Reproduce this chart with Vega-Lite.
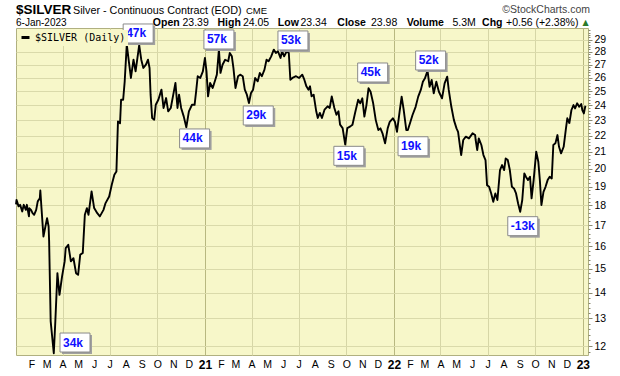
{
  "$schema": "https://vega.github.io/schema/vega-lite/v6.json",
  "width": 572,
  "height": 327,
  "autosize": {"type": "none"},
  "padding": {"left": 16, "top": 28, "right": 32, "bottom": 21},
  "background": "#ffffff",
  "config": {"view": {"fill": "#f7f7c9", "stroke": "#b0b080", "strokeWidth": 1}, "font": "Liberation Sans"},
  "datasets": {
    "quote": [{"symbol": "$SILVER", "name": "Silver - Continuous Contract (EOD)", "exchange": "CME", "date": "6-Jan-2023", "open": "23.39", "high": "24.05", "low": "23.34", "close": "23.98", "volume": "5.3M", "chg": "+0.56 (+2.38%)"}],
    "labels": [
      {"date": "2020-04-25", "price": 11.75, "label": "34k", "side": "above"},
      {"date": "2020-08-25", "price": 28.61, "label": "47k", "side": "above"},
      {"date": "2020-12-12", "price": 22.53, "label": "44k", "side": "below"},
      {"date": "2021-01-28", "price": 28.12, "label": "57k", "side": "above"},
      {"date": "2021-04-14", "price": 24.07, "label": "29k", "side": "below"},
      {"date": "2021-06-20", "price": 28.04, "label": "53k", "side": "above"},
      {"date": "2021-10-06", "price": 21.43, "label": "15k", "side": "below"},
      {"date": "2021-11-21", "price": 25.57, "label": "45k", "side": "above"},
      {"date": "2022-02-07", "price": 22.03, "label": "19k", "side": "below"},
      {"date": "2022-03-13", "price": 26.47, "label": "52k", "side": "above"},
      {"date": "2022-09-07", "price": 17.5, "label": "-13k", "side": "below"}
    ],
    "silver": [
      {"date": "2020-01-02", "close": 18.05}, {"date": "2020-01-03", "close": 18.29}, {"date": "2020-01-07", "close": 17.95}, {"date": "2020-01-10", "close": 18.03},
      {"date": "2020-01-14", "close": 17.69}, {"date": "2020-01-17", "close": 18.03}, {"date": "2020-01-21", "close": 17.77}, {"date": "2020-01-23", "close": 18.03},
      {"date": "2020-01-27", "close": 17.44}, {"date": "2020-01-28", "close": 17.85}, {"date": "2020-01-31", "close": 17.77}, {"date": "2020-02-03", "close": 17.6},
      {"date": "2020-02-06", "close": 17.52}, {"date": "2020-02-10", "close": 17.77}, {"date": "2020-02-13", "close": 18.21}, {"date": "2020-02-17", "close": 18.38},
      {"date": "2020-02-18", "close": 18.79}, {"date": "2020-02-20", "close": 17.95}, {"date": "2020-02-24", "close": 16.46}, {"date": "2020-03-02", "close": 17.35},
      {"date": "2020-03-05", "close": 16.94}, {"date": "2020-03-06", "close": 16.23}, {"date": "2020-03-09", "close": 12.89}, {"date": "2020-03-15", "close": 11.76},
      {"date": "2020-03-18", "close": 12.9}, {"date": "2020-03-22", "close": 14.81}, {"date": "2020-03-26", "close": 13.91}, {"date": "2020-03-31", "close": 14.67},
      {"date": "2020-04-05", "close": 15.32}, {"date": "2020-04-07", "close": 15.92}, {"date": "2020-04-12", "close": 16.07}, {"date": "2020-04-17", "close": 15.32},
      {"date": "2020-04-22", "close": 15.46}, {"date": "2020-04-27", "close": 14.81}, {"date": "2020-05-01", "close": 14.74}, {"date": "2020-05-05", "close": 15.61},
      {"date": "2020-05-10", "close": 15.7}, {"date": "2020-05-14", "close": 17.52}, {"date": "2020-05-18", "close": 17.86}, {"date": "2020-05-21", "close": 17.52},
      {"date": "2020-05-27", "close": 18.74}, {"date": "2020-06-01", "close": 17.86}, {"date": "2020-06-07", "close": 17.6}, {"date": "2020-06-12", "close": 17.44},
      {"date": "2020-06-19", "close": 17.77}, {"date": "2020-06-23", "close": 18.12}, {"date": "2020-06-30", "close": 18.47}, {"date": "2020-07-05", "close": 19.1},
      {"date": "2020-07-10", "close": 19.66}, {"date": "2020-07-14", "close": 19.85}, {"date": "2020-07-17", "close": 22.93}, {"date": "2020-07-21", "close": 22.8},
      {"date": "2020-07-23", "close": 24.4}, {"date": "2020-07-27", "close": 24.4}, {"date": "2020-07-30", "close": 25.73}, {"date": "2020-08-03", "close": 28.6},
      {"date": "2020-08-07", "close": 27.26}, {"date": "2020-08-11", "close": 25.98}, {"date": "2020-08-16", "close": 27.38}, {"date": "2020-08-20", "close": 26.48},
      {"date": "2020-08-27", "close": 28.55}, {"date": "2020-08-31", "close": 27.38}, {"date": "2020-09-04", "close": 26.74}, {"date": "2020-09-09", "close": 26.99},
      {"date": "2020-09-13", "close": 27.38}, {"date": "2020-09-16", "close": 26.74}, {"date": "2020-09-18", "close": 24.76}, {"date": "2020-09-21", "close": 23.15},
      {"date": "2020-09-25", "close": 23.04}, {"date": "2020-09-28", "close": 24.05}, {"date": "2020-10-03", "close": 24.4}, {"date": "2020-10-09", "close": 25.12},
      {"date": "2020-10-13", "close": 23.83}, {"date": "2020-10-18", "close": 24.52}, {"date": "2020-10-22", "close": 23.6}, {"date": "2020-10-27", "close": 23.83},
      {"date": "2020-11-02", "close": 25.0}, {"date": "2020-11-05", "close": 25.61}, {"date": "2020-11-09", "close": 23.83}, {"date": "2020-11-12", "close": 24.76},
      {"date": "2020-11-16", "close": 23.83}, {"date": "2020-11-21", "close": 23.26}, {"date": "2020-11-26", "close": 22.54}, {"date": "2020-12-01", "close": 23.6},
      {"date": "2020-12-07", "close": 24.05}, {"date": "2020-12-12", "close": 24.05}, {"date": "2020-12-15", "close": 25.0}, {"date": "2020-12-18", "close": 26.11},
      {"date": "2020-12-23", "close": 25.98}, {"date": "2020-12-28", "close": 26.48}, {"date": "2021-01-01", "close": 27.52}, {"date": "2021-01-04", "close": 26.48},
      {"date": "2021-01-07", "close": 24.64}, {"date": "2021-01-11", "close": 25.61}, {"date": "2021-01-16", "close": 25.24}, {"date": "2021-01-21", "close": 25.85},
      {"date": "2021-01-24", "close": 26.23}, {"date": "2021-01-28", "close": 28.19}, {"date": "2021-01-31", "close": 26.36}, {"date": "2021-02-04", "close": 26.99},
      {"date": "2021-02-09", "close": 27.38}, {"date": "2021-02-15", "close": 27.26}, {"date": "2021-02-18", "close": 27.92}, {"date": "2021-02-22", "close": 27.65},
      {"date": "2021-02-25", "close": 26.74}, {"date": "2021-03-01", "close": 25.24}, {"date": "2021-03-06", "close": 26.11}, {"date": "2021-03-10", "close": 26.23},
      {"date": "2021-03-15", "close": 26.11}, {"date": "2021-03-19", "close": 25.12}, {"date": "2021-03-23", "close": 24.76}, {"date": "2021-03-27", "close": 24.17},
      {"date": "2021-03-31", "close": 24.88}, {"date": "2021-04-04", "close": 25.12}, {"date": "2021-04-08", "close": 25.98}, {"date": "2021-04-13", "close": 25.73},
      {"date": "2021-04-17", "close": 26.36}, {"date": "2021-04-21", "close": 26.11}, {"date": "2021-04-26", "close": 26.61}, {"date": "2021-04-30", "close": 27.38},
      {"date": "2021-05-04", "close": 27.26}, {"date": "2021-05-09", "close": 27.65}, {"date": "2021-05-14", "close": 28.19}, {"date": "2021-05-18", "close": 27.92},
      {"date": "2021-05-22", "close": 28.06}, {"date": "2021-05-27", "close": 27.52}, {"date": "2021-05-30", "close": 28.06}, {"date": "2021-06-03", "close": 27.65},
      {"date": "2021-06-08", "close": 28.06}, {"date": "2021-06-12", "close": 27.92}, {"date": "2021-06-15", "close": 25.85}, {"date": "2021-06-19", "close": 25.98},
      {"date": "2021-06-26", "close": 26.11}, {"date": "2021-07-02", "close": 25.98}, {"date": "2021-07-08", "close": 26.23}, {"date": "2021-07-12", "close": 25.85},
      {"date": "2021-07-16", "close": 25.36}, {"date": "2021-07-20", "close": 25.12}, {"date": "2021-07-23", "close": 25.36}, {"date": "2021-07-26", "close": 24.64},
      {"date": "2021-07-30", "close": 24.76}, {"date": "2021-08-04", "close": 23.6}, {"date": "2021-08-07", "close": 23.15}, {"date": "2021-08-11", "close": 23.49},
      {"date": "2021-08-15", "close": 23.15}, {"date": "2021-08-20", "close": 23.71}, {"date": "2021-08-26", "close": 23.94}, {"date": "2021-08-30", "close": 23.83},
      {"date": "2021-09-03", "close": 24.64}, {"date": "2021-09-08", "close": 23.83}, {"date": "2021-09-12", "close": 23.37}, {"date": "2021-09-16", "close": 23.6},
      {"date": "2021-09-19", "close": 22.71}, {"date": "2021-09-24", "close": 22.49}, {"date": "2021-09-29", "close": 21.44}, {"date": "2021-10-03", "close": 22.49},
      {"date": "2021-10-09", "close": 22.6}, {"date": "2021-10-13", "close": 22.71}, {"date": "2021-10-18", "close": 23.49}, {"date": "2021-10-24", "close": 24.4},
      {"date": "2021-10-28", "close": 24.15}, {"date": "2021-11-01", "close": 24.5}, {"date": "2021-11-05", "close": 23.24}, {"date": "2021-11-09", "close": 24.03},
      {"date": "2021-11-13", "close": 25.22}, {"date": "2021-11-17", "close": 24.97}, {"date": "2021-11-22", "close": 24.15}, {"date": "2021-11-27", "close": 23.01},
      {"date": "2021-12-02", "close": 22.36}, {"date": "2021-12-06", "close": 22.47}, {"date": "2021-12-10", "close": 22.15}, {"date": "2021-12-15", "close": 21.52},
      {"date": "2021-12-20", "close": 22.47}, {"date": "2021-12-24", "close": 22.9}, {"date": "2021-12-30", "close": 23.13}, {"date": "2022-01-03", "close": 22.9},
      {"date": "2022-01-07", "close": 22.25}, {"date": "2022-01-12", "close": 23.57}, {"date": "2022-01-16", "close": 24.62}, {"date": "2022-01-20", "close": 23.69},
      {"date": "2022-01-25", "close": 22.36}, {"date": "2022-01-28", "close": 22.36}, {"date": "2022-02-02", "close": 22.9}, {"date": "2022-02-06", "close": 23.35},
      {"date": "2022-02-12", "close": 23.91}, {"date": "2022-02-17", "close": 24.62}, {"date": "2022-02-22", "close": 25.1}, {"date": "2022-02-26", "close": 25.7},
      {"date": "2022-03-02", "close": 25.95}, {"date": "2022-03-07", "close": 26.53}, {"date": "2022-03-11", "close": 25.33}, {"date": "2022-03-15", "close": 25.83},
      {"date": "2022-03-19", "close": 24.86}, {"date": "2022-03-24", "close": 25.7}, {"date": "2022-03-29", "close": 24.97}, {"date": "2022-04-04", "close": 24.5},
      {"date": "2022-04-09", "close": 25.58}, {"date": "2022-04-14", "close": 26.08}, {"date": "2022-04-17", "close": 25.1}, {"date": "2022-04-22", "close": 23.91},
      {"date": "2022-04-27", "close": 23.01}, {"date": "2022-05-02", "close": 22.47}, {"date": "2022-05-05", "close": 22.25}, {"date": "2022-05-11", "close": 20.81},
      {"date": "2022-05-15", "close": 21.73}, {"date": "2022-05-20", "close": 21.94}, {"date": "2022-05-26", "close": 21.83}, {"date": "2022-06-02", "close": 22.15},
      {"date": "2022-06-07", "close": 22.04}, {"date": "2022-06-08", "close": 21.73}, {"date": "2022-06-11", "close": 21.11}, {"date": "2022-06-14", "close": 21.83},
      {"date": "2022-06-19", "close": 21.42}, {"date": "2022-06-23", "close": 20.81}, {"date": "2022-06-27", "close": 20.51}, {"date": "2022-06-30", "close": 19.08},
      {"date": "2022-07-04", "close": 18.99}, {"date": "2022-07-08", "close": 18.63}, {"date": "2022-07-12", "close": 18.19}, {"date": "2022-07-16", "close": 18.63},
      {"date": "2022-07-20", "close": 18.28}, {"date": "2022-07-25", "close": 19.93}, {"date": "2022-07-29", "close": 20.22}, {"date": "2022-08-02", "close": 19.93},
      {"date": "2022-08-05", "close": 20.61}, {"date": "2022-08-09", "close": 20.51}, {"date": "2022-08-13", "close": 19.93}, {"date": "2022-08-17", "close": 18.99},
      {"date": "2022-08-21", "close": 18.9}, {"date": "2022-08-25", "close": 18.63}, {"date": "2022-08-29", "close": 18.1}, {"date": "2022-09-02", "close": 17.67},
      {"date": "2022-09-06", "close": 18.28}, {"date": "2022-09-10", "close": 19.74}, {"date": "2022-09-13", "close": 19.55}, {"date": "2022-09-17", "close": 19.36},
      {"date": "2022-09-21", "close": 19.55}, {"date": "2022-09-24", "close": 18.37}, {"date": "2022-09-28", "close": 19.36}, {"date": "2022-10-03", "close": 21.01},
      {"date": "2022-10-07", "close": 20.41}, {"date": "2022-10-10", "close": 19.36}, {"date": "2022-10-13", "close": 18.02}, {"date": "2022-10-17", "close": 18.72},
      {"date": "2022-10-21", "close": 18.99}, {"date": "2022-10-25", "close": 19.36}, {"date": "2022-10-29", "close": 19.55}, {"date": "2022-11-02", "close": 19.45},
      {"date": "2022-11-05", "close": 21.42}, {"date": "2022-11-09", "close": 21.52}, {"date": "2022-11-13", "close": 22.04}, {"date": "2022-11-16", "close": 21.31},
      {"date": "2022-11-20", "close": 20.91}, {"date": "2022-11-25", "close": 21.31}, {"date": "2022-11-29", "close": 22.36}, {"date": "2022-12-02", "close": 23.13},
      {"date": "2022-12-06", "close": 22.82}, {"date": "2022-12-10", "close": 23.69}, {"date": "2022-12-14", "close": 24.03}, {"date": "2022-12-17", "close": 23.8},
      {"date": "2022-12-21", "close": 24.15}, {"date": "2022-12-25", "close": 23.91}, {"date": "2022-12-29", "close": 24.1}, {"date": "2022-12-31", "close": 23.69},
      {"date": "2023-01-03", "close": 23.46}, {"date": "2023-01-06", "close": 23.98}
    ]
  },
  "layer": [
    {
      "data": {"name": "silver"},
      "mark": {"type": "line", "strokeWidth": 1.9, "strokeJoin": "round"},
      "encoding": {
        "x": {
          "field": "date", "type": "temporal",
          "scale": {"type": "utc", "nice": false, "domain": [{"year": 2020, "month": 1, "date": 2, "utc": true}, {"year": 2023, "month": 1, "date": 11, "utc": true}]},
          "axis": {
            "title": null, "orient": "bottom",
            "tickCount": {"interval": "month", "step": 1},
            "labelExpr": "utcmonth(datum.value) == 0 ? utcFormat(datum.value, '%y') : substring(utcFormat(datum.value, '%b'), 0, 1)",
            "labelFont": "Liberation Sans",
            "labelFontSize": {"condition": {"test": "utcmonth(datum.value) == 0", "value": 12}, "value": 10.5},
            "labelFontWeight": {"condition": {"test": "utcmonth(datum.value) == 0", "value": "bold"}, "value": "normal"},
            "labelColor": "#000000", "labelPadding": 4, "labelBaseline": "top",
            "ticks": false, "domain": false,
            "grid": true,
            "gridColor": {"condition": {"test": "utcmonth(datum.value) == 0", "value": "#b8b880"}, "value": "#d6d6a6"},
            "gridOpacity": {"condition": {"test": "utcmonth(datum.value) % 3 == 0", "value": 1}, "value": 0},
            "labelOverlap": false, "labelBound": false, "labelFlush": false
          }
        },
        "y": {
          "field": "close", "type": "quantitative",
          "scale": {"type": "log", "domain": [11.7, 30], "nice": false, "zero": false},
          "axis": {
            "title": null, "orient": "right",
            "values": [11.8, 12, 12.2, 12.4, 12.6, 12.8, 13, 13.2, 13.4, 13.6, 13.8, 14, 14.2, 14.4, 14.6, 14.8, 15, 15.2, 15.4, 15.6, 15.8, 16, 16.2, 16.4, 16.6, 16.8, 17, 17.2, 17.4, 17.6, 17.8, 18, 18.2, 18.4, 18.6, 18.8, 19, 19.2, 19.4, 19.6, 19.8, 20, 20.2, 20.4, 20.6, 20.8, 21, 21.2, 21.4, 21.6, 21.8, 22, 22.2, 22.4, 22.6, 22.8, 23, 23.2, 23.4, 23.6, 23.8, 24, 24.2, 24.4, 24.6, 24.8, 25, 25.2, 25.4, 25.6, 25.8, 26, 26.2, 26.4, 26.6, 26.8, 27, 27.2, 27.4, 27.6, 27.8, 28, 28.2, 28.4, 28.6, 28.8, 29, 29.2, 29.4, 29.6, 29.8],
            "labelExpr": "datum.value % 1 == 0 ? format(datum.value, 'd') : ''",
            "labelFont": "Liberation Sans", "labelFontSize": 10.5, "labelColor": "#000000",
            "labelPadding": 2, "labelBaseline": "middle",
            "tickSize": {"condition": {"test": "datum.value % 1 == 0", "value": 4}, "value": 2},
            "tickColor": "#8a8a70",
            "domain": false, "grid": true, "gridColor": "#dadaaa",
            "gridOpacity": {"condition": {"test": "datum.value % 1 == 0", "value": 1}, "value": 0},
            "labelOverlap": false, "labelBound": false
          }
        },
        "color": {
          "datum": "$SILVER (Daily)", "type": "nominal",
          "scale": {"range": ["#000000"]},
          "legend": {"title": null, "orient": "top-left", "offset": 2, "padding": 2, "symbolType": "stroke", "symbolStrokeWidth": 3, "symbolSize": 64, "labelFont": "DejaVu Sans Mono", "labelFontSize": 10, "labelColor": "#000000", "labelOffset": 4, "fillColor": "#f7f7c9"}
        }
      }
    },
    {
      "data": {"name": "labels"},
      "encoding": {
        "x": {"field": "date", "type": "temporal"},
        "y": {"field": "price", "type": "quantitative"}
      },
      "layer": [
        {
          "mark": {"type": "point", "filled": true, "fill": "#a0a0a0", "strokeWidth": 0, "opacity": 1, "size": 900},
          "encoding": {"shape": {"field": "side", "type": "nominal", "legend": null, "scale": {"domain": ["above", "below"], "range": ["M-0.8667,-1.2333H1.1333V0.0333H-0.8667Z", "M-0.8667,0.2333H1.1333V1.5H-0.8667Z"]}}}
        },
        {
          "mark": {"type": "point", "filled": true, "fill": "#ffffff", "stroke": "#8a8a8a", "strokeWidth": 1, "opacity": 1, "size": 900},
          "encoding": {"shape": {"field": "side", "type": "nominal", "legend": null, "scale": {"domain": ["above", "below"], "range": ["M-1,-1.3667H1V-0.1H-1Z", "M-1,0.1H1V1.3667H-1Z"]}}}
        },
        {
          "transform": [{"filter": "datum.side == 'above'"}],
          "mark": {"type": "text", "align": "left", "baseline": "middle", "dx": -12, "dy": -11, "font": "Liberation Sans", "fontSize": 12, "fontWeight": "bold", "color": "#1010ff"},
          "encoding": {"text": {"field": "label"}}
        },
        {
          "transform": [{"filter": "datum.side == 'below'"}],
          "mark": {"type": "text", "align": "left", "baseline": "middle", "dx": -12, "dy": 11, "font": "Liberation Sans", "fontSize": 12, "fontWeight": "bold", "color": "#1010ff"},
          "encoding": {"text": {"field": "label"}}
        }
      ],
      "resolve": {"scale": {"shape": "independent"}}
    },
    {
      "data": {"name": "quote"},
      "encoding": {
        "x": {"datum": {"year": 2020, "month": 1, "date": 2, "utc": true}, "type": "temporal"},
        "y": {"datum": 30, "type": "quantitative"}
      },
      "layer": [
        {"mark": {"type": "text", "align": "left", "baseline": "alphabetic", "dx": 0, "dy": -14, "font": "Liberation Sans", "fontSize": 13.5, "fontWeight": "bold", "color": "#000000"}, "encoding": {"text": {"field": "symbol"}}},
        {"mark": {"type": "text", "align": "left", "baseline": "alphabetic", "dx": 57, "dy": -14.5, "font": "Liberation Sans", "fontSize": 10.8, "color": "#000000"}, "encoding": {"text": {"field": "name"}}},
        {"mark": {"type": "text", "align": "left", "baseline": "alphabetic", "dx": 230, "dy": -14.5, "font": "Liberation Sans", "fontSize": 9.5, "color": "#000000"}, "encoding": {"text": {"field": "exchange"}}},
        {"mark": {"type": "text", "align": "right", "baseline": "alphabetic", "dx": 574, "dy": -15, "font": "Liberation Sans", "fontSize": 10.5, "color": "#444444"}, "encoding": {"text": {"value": "©StockCharts.com"}}},
        {"mark": {"type": "text", "align": "left", "baseline": "alphabetic", "dx": 0, "dy": -2.5, "font": "Liberation Sans", "fontSize": 10, "color": "#000000"}, "encoding": {"text": {"field": "date"}}},
        {"mark": {"type": "text", "align": "left", "baseline": "alphabetic", "dx": 136.8, "dy": -2.5, "font": "Liberation Sans", "fontSize": 10.5, "fontWeight": "bold", "color": "#000000"}, "encoding": {"text": {"value": "Open"}}},
        {"mark": {"type": "text", "align": "left", "baseline": "alphabetic", "dx": 166.5, "dy": -2.5, "font": "Liberation Sans", "fontSize": 10.5, "color": "#000000"}, "encoding": {"text": {"field": "open"}}},
        {"mark": {"type": "text", "align": "left", "baseline": "alphabetic", "dx": 201.5, "dy": -2.5, "font": "Liberation Sans", "fontSize": 10.5, "fontWeight": "bold", "color": "#000000"}, "encoding": {"text": {"value": "High"}}},
        {"mark": {"type": "text", "align": "left", "baseline": "alphabetic", "dx": 226.9, "dy": -2.5, "font": "Liberation Sans", "fontSize": 10.5, "color": "#000000"}, "encoding": {"text": {"field": "high"}}},
        {"mark": {"type": "text", "align": "left", "baseline": "alphabetic", "dx": 261.8, "dy": -2.5, "font": "Liberation Sans", "fontSize": 10.5, "fontWeight": "bold", "color": "#000000"}, "encoding": {"text": {"value": "Low"}}},
        {"mark": {"type": "text", "align": "left", "baseline": "alphabetic", "dx": 284.5, "dy": -2.5, "font": "Liberation Sans", "fontSize": 10.5, "color": "#000000"}, "encoding": {"text": {"field": "low"}}},
        {"mark": {"type": "text", "align": "left", "baseline": "alphabetic", "dx": 321.3, "dy": -2.5, "font": "Liberation Sans", "fontSize": 10.5, "fontWeight": "bold", "color": "#000000"}, "encoding": {"text": {"value": "Close"}}},
        {"mark": {"type": "text", "align": "left", "baseline": "alphabetic", "dx": 355, "dy": -2.5, "font": "Liberation Sans", "fontSize": 10.5, "color": "#000000"}, "encoding": {"text": {"field": "close"}}},
        {"mark": {"type": "text", "align": "left", "baseline": "alphabetic", "dx": 390.7, "dy": -2.5, "font": "Liberation Sans", "fontSize": 10.5, "fontWeight": "bold", "color": "#000000"}, "encoding": {"text": {"value": "Volume"}}},
        {"mark": {"type": "text", "align": "left", "baseline": "alphabetic", "dx": 436.4, "dy": -2.5, "font": "Liberation Sans", "fontSize": 10.5, "color": "#000000"}, "encoding": {"text": {"field": "volume"}}},
        {"mark": {"type": "text", "align": "left", "baseline": "alphabetic", "dx": 466.1, "dy": -2.5, "font": "Liberation Sans", "fontSize": 10.5, "fontWeight": "bold", "color": "#000000"}, "encoding": {"text": {"value": "Chg"}}},
        {"mark": {"type": "text", "align": "left", "baseline": "alphabetic", "dx": 490, "dy": -2.5, "font": "Liberation Sans", "fontSize": 10.5, "color": "#000000"}, "encoding": {"text": {"field": "chg"}}},
        {"mark": {"type": "text", "align": "left", "baseline": "alphabetic", "dx": 566.5, "dy": -3.5, "font": "DejaVu Sans", "fontSize": 8, "color": "#2b7a2b"}, "encoding": {"text": {"value": "▲"}}}
      ]
    }
  ]
}
